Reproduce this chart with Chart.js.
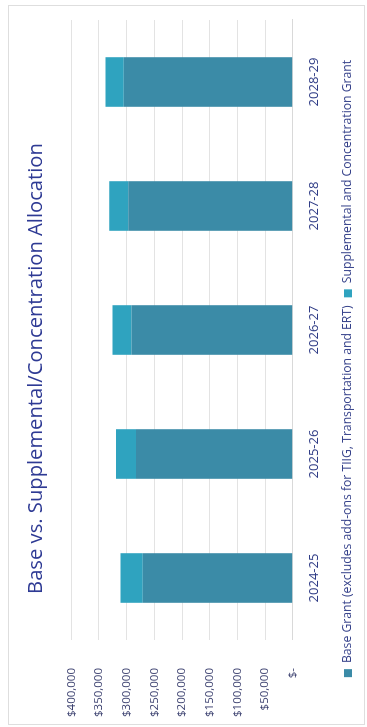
<!DOCTYPE html>
<html>
<head>
<meta charset="utf-8">
<script src="https://cdn.jsdelivr.net/npm/chart.js@4.4.1/dist/chart.umd.min.js"></script>
<style>
  html, body { margin: 0; padding: 0; background: #fff; overflow: hidden; }
  /* the chart is laid out landscape and turned a quarter turn onto the page */
  #sheet {
    position: absolute; left: 0; top: 0;
    width: 727px; height: 367px;
    transform-origin: 0 0;
    transform: translate(0, 727px) rotate(-90deg);
  }
  #frame {
    position: absolute; left: 2px; top: 8px; width: 720px; height: 357px;
    border: 1px solid #dedede; box-sizing: border-box;
  }
  #allocChart { position: absolute; left: 0; top: 0; }
</style>
</head>
<body>
<div id="sheet">
  <div id="frame"></div>
  <canvas id="allocChart" width="727" height="367"></canvas>
</div>
<script>
const years = ['2024-25', '2025-26', '2026-27', '2027-28', '2028-29'];
const baseGrant = [271000, 283000, 291000, 297000, 305000];
const suppConcGrant = [40000, 36000, 34500, 34500, 33000];
const yTicks = [0, 50000, 100000, 150000, 200000, 250000, 300000, 350000, 400000];

const FONT = "'Open Sans', 'Noto Sans', sans-serif";
const NAVY = '#2f3c86';

// $-, $50,000, ...
function money(v) {
  return v === 0 ? '$-' : '$' + v.toLocaleString('en-US');
}

new Chart(document.getElementById('allocChart'), {
  type: 'bar',
  data: {
    labels: years,
    datasets: [
      {
        label: 'Base Grant (excludes add-ons for TIIG, Transportation and ERT)',
        data: baseGrant,
        backgroundColor: '#3b8ba7',
        barPercentage: 0.4,
        categoryPercentage: 1
      },
      {
        label: 'Supplemental and Concentration Grant',
        data: suppConcGrant,
        backgroundColor: '#2fa3bf',
        barPercentage: 0.4,
        categoryPercentage: 1
      }
    ]
  },
  options: {
    responsive: false,
    animation: false,
    layout: { padding: { left: 10, right: 20, top: 0, bottom: 3 } },
    scales: {
      x: {
        stacked: true,
        grid: { display: false, drawTicks: false, tickLength: 0 },
        border: { display: true, color: '#d9d9d9' },
        ticks: { color: NAVY, padding: 14, font: { family: FONT, size: 13 } },
        afterFit: axis => { axis.height = 41; }
      },
      y: {
        stacked: true,
        min: 0,
        max: 400000,
        afterBuildTicks: axis => { axis.ticks = yTicks.map(v => ({ value: v })); },
        grid: { color: '#e3e3e3', drawTicks: false, tickLength: 0 },
        border: { display: false },
        ticks: {
          color: '#3a3f6e',
          padding: 28,
          font: { family: FONT, size: 11.5 },
          callback: v => money(v)
        },
        afterFit: axis => { axis.width = 77; }
      }
    },
    plugins: {
      title: {
        display: true,
        text: 'Base vs. Supplemental/Concentration Allocation',
        color: '#2e3a94',
        font: { family: FONT, size: 20.2, weight: 'normal' },
        padding: { top: 24, bottom: 23 }
      },
      legend: {
        position: 'bottom',
        labels: {
          color: '#35418a',
          boxWidth: 8,
          boxHeight: 8,
          padding: 8,
          font: { family: FONT, size: 12.2 }
        }
      },
      tooltip: { enabled: false }
    }
  }
});
</script>
</body>
</html>
